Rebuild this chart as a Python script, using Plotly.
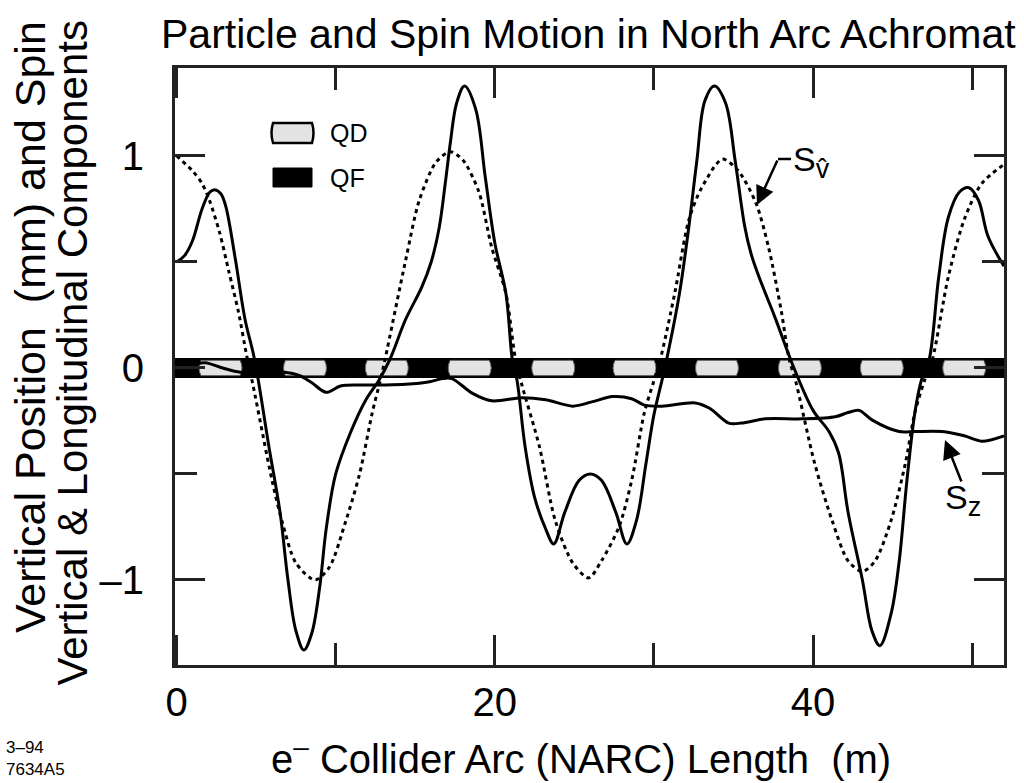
import plotly.graph_objects as go

# ---------------- data ----------------
# particle vertical position (mm)
x_track = [0.0, 0.5, 1.0, 1.6, 2.1, 2.45, 2.8, 3.1, 3.7, 4.3, 4.9, 5.8, 6.5, 7.0, 7.5, 8.0, 8.5, 9.0, 9.4,
           10.0, 10.9, 11.9, 12.7, 13.4, 14.4, 15.4, 16.0, 16.5, 16.9, 17.2, 17.6, 18.1, 18.8, 19.4, 20.0,
           20.7, 21.1, 21.4, 21.9, 22.5, 23.2, 23.7, 24.4, 25.3, 26.0, 26.7, 27.6, 28.3, 28.9, 29.5,
           30.0, 30.5, 30.8, 31.6, 32.2, 32.7, 33.2, 33.8, 34.5, 35.1, 35.7, 36.1, 36.6, 37.6, 38.8,
           40.0, 41.0, 41.6, 42.2, 43.1, 43.7, 44.2, 44.9, 45.4, 45.9, 46.4, 46.8, 47.3, 47.9, 48.5,
           49.2, 49.8, 50.4, 51.0, 52.0]
y_track = [0.50, 0.53, 0.60, 0.75, 0.83, 0.84, 0.82, 0.76, 0.51, 0.23, 0.04, -0.37, -0.68, -1.00, -1.24, -1.33,
           -1.25, -1.03, -0.76, -0.50, -0.31, -0.15, -0.06, 0.04, 0.23, 0.38, 0.50, 0.66, 0.88, 1.06,
           1.25, 1.33, 1.22, 0.90, 0.59, 0.35, 0.04, -0.06, -0.37, -0.61, -0.76, -0.83, -0.68, -0.53, -0.50,
           -0.53, -0.68, -0.83, -0.72, -0.45, -0.22, -0.06, 0.04, 0.35, 0.67, 0.98, 1.26, 1.33, 1.25,
           0.98, 0.67, 0.54, 0.43, 0.24, 0.00, -0.20, -0.30, -0.40, -0.68, -1.00, -1.24, -1.31, -1.16,
           -0.92, -0.53, -0.21, -0.06, 0.04, 0.43, 0.71, 0.83, 0.85, 0.79, 0.62, 0.48]

# vertical spin component S_v (dotted)
x_sv = [0.0, 1.0, 1.6, 2.07, 2.7, 3.3, 3.9, 4.4, 4.8, 6.0, 6.65, 7.5, 8.7, 9.6, 10.6, 11.5, 12.3, 12.8,
        13.1, 14.4, 15.25, 16.3, 17.2, 18.0, 19.0, 19.8, 20.7, 21.3, 21.7, 22.8, 23.8, 24.9, 25.9, 26.7,
        27.8, 28.6, 29.4, 30.0, 30.4, 31.3, 32.2, 33.0, 34.3, 35.3, 36.4, 37.2, 38.0, 38.5, 38.9, 40.1,
        41.2, 42.2, 43.1, 43.9, 44.9, 45.8, 46.4, 47.0, 47.5, 48.5, 49.5, 50.6, 52.0]
y_sv = [1.00, 0.93, 0.87, 0.79, 0.64, 0.45, 0.26, 0.06, -0.08, -0.53, -0.73, -0.92, -1.00, -0.94, -0.73,
        -0.50, -0.21, -0.06, 0.04, 0.51, 0.79, 0.97, 1.02, 0.98, 0.83, 0.57, 0.35, 0.04, -0.08, -0.37,
        -0.72, -0.92, -0.99, -0.91, -0.75, -0.53, -0.21, -0.06, 0.04, 0.35, 0.70, 0.85, 0.985, 0.93, 0.78,
        0.57, 0.27, 0.04, -0.06, -0.45, -0.72, -0.91, -0.96, -0.91, -0.72, -0.45, -0.21, -0.06, 0.04,
        0.43, 0.70, 0.87, 0.96]

# longitudinal spin component S_z
x_sz = [0.0, 1.0, 1.8, 2.9, 4.0, 5.5, 6.8, 7.7, 8.5, 9.4, 10.3, 11.5, 13.0, 14.4, 15.9, 16.7, 17.3, 18.6,
        19.8, 21.7, 23.2, 24.9, 26.1, 27.4, 28.6, 29.4, 30.5, 32.6, 33.5, 34.7, 35.5, 37.0, 39.3, 41.4,
        42.2, 42.9, 43.7, 45.4, 46.4, 48.1, 49.5, 50.6, 52.0]
y_sz = [0.0, 0.015, 0.025, 0.0, -0.02, -0.02, -0.02, -0.035, -0.07, -0.115, -0.085, -0.08, -0.08, -0.077,
        -0.065, -0.05, -0.05, -0.12, -0.155, -0.14, -0.15, -0.18, -0.16, -0.135, -0.145, -0.175, -0.18,
        -0.165, -0.19, -0.26, -0.26, -0.24, -0.24, -0.23, -0.21, -0.20, -0.245, -0.30, -0.30, -0.30,
        -0.32, -0.345, -0.32]

# defocusing quadrupole centres (m); the rest of the lattice band is drawn as QF (black)
qd_centers = [2.76, 8.07, 13.21, 18.42, 23.67, 28.78, 33.96, 39.17, 44.32, 49.50]
qd_length = 2.45

x_tickvals = [0, 20, 40]
x_ticktext = ["0", "20", "40"]
x_minor = [10, 30, 50]
y_tickvals = [-1, 0, 1]
y_ticktext = ["\u20131", "0", "1"]
y_minor = [-0.5, 0.5]

# ---------------- layout geometry ----------------
W, H = 1024, 783
L, R, T, B = 175, 20, 68, 118
PW, PH = W - L - R, H - T - B
FONT = "Liberation Sans, Arial, Helvetica, sans-serif"


def px(x):
    return (x - L) / PW


def py(y):
    return (H - B - y) / PH


fig = go.Figure()
line_col = "black"
fig.add_trace(go.Scatter(x=x_sv, y=y_sv, mode="lines",
                         line=dict(color=line_col, width=3, dash="4px,4px", shape="spline", smoothing=0.8),
                         hoverinfo="skip", showlegend=False))
fig.add_trace(go.Scatter(x=x_track, y=y_track, mode="lines",
                         line=dict(color=line_col, width=3, shape="spline", smoothing=1.0),
                         hoverinfo="skip", showlegend=False))
fig.add_trace(go.Scatter(x=x_sz, y=y_sz, mode="lines",
                         line=dict(color=line_col, width=3, shape="spline", smoothing=0.9),
                         hoverinfo="skip", showlegend=False))

shapes = []
band_half = 0.047
box_half = 0.036
bulge = 0.25
# QF band (black)
shapes.append(dict(type="rect", xref="x domain", yref="y", x0=0, x1=1, y0=-band_half, y1=band_half,
                   fillcolor="black", line=dict(width=0), layer="below"))
qd_fill = "#e3e3e3"
for c in qd_centers:
    x0, x1 = c - qd_length / 2, c + qd_length / 2
    path = (f"M {x0},{-box_half} L {x1},{-box_half} Q {x1 + bulge},0 {x1},{box_half} "
            f"L {x0},{box_half} Q {x0 - bulge},0 {x0},{-box_half} Z")
    shapes.append(dict(type="path", xref="x", yref="y", path=path, fillcolor=qd_fill,
                       line=dict(color="#666", width=1), layer="below"))

# legend symbols (paper coordinates)
lx0, lx1 = px(273), px(312)
qy0, qy1 = py(143), py(123)
bpx = 3 / PW
shapes.append(dict(type="path", xref="paper", yref="paper",
                   path=(f"M {lx0},{qy0} L {lx1},{qy0} Q {lx1 + bpx},{(qy0 + qy1) / 2} {lx1},{qy1} "
                         f"L {lx0},{qy1} Q {lx0 - bpx},{(qy0 + qy1) / 2} {lx0},{qy0} Z"),
                   fillcolor=qd_fill, line=dict(color="black", width=2.5)))
shapes.append(dict(type="rect", xref="paper", yref="paper", x0=lx0, x1=lx1, y0=py(187), y1=py(168),
                   fillcolor="black", line=dict(color="black", width=1)))
# leader for S_v label
shapes.append(dict(type="line", xref="paper", yref="paper", x0=px(778), x1=px(791), y0=py(159), y1=py(159),
                   line=dict(color="black", width=2.5)))

ann = []
ann.append(dict(text="Particle and Spin Motion in North Arc Achromat", xref="paper", yref="paper",
                x=px(588), y=py(34), xanchor="center", yanchor="middle", showarrow=False,
                font=dict(size=41, family=FONT, color="black")))
ann.append(dict(text="e<sup>\u2013</sup> Collider Arc (NARC) Length \u00a0(m)", xref="paper", yref="paper",
                x=px(581), y=py(756), xanchor="center", yanchor="middle", showarrow=False,
                font=dict(size=40, family=FONT, color="black")))
ann.append(dict(text="Vertical Position \u00a0(mm) and Spin", xref="paper", yref="paper",
                x=px(30), y=py(19), xanchor="center", yanchor="top", textangle=-90, showarrow=False,
                font=dict(size=43, family=FONT, color="black")))
ann.append(dict(text="Vertical &amp; Longitudinal Components", xref="paper", yref="paper",
                x=px(72), y=py(19), xanchor="center", yanchor="top", textangle=-90, showarrow=False,
                font=dict(size=42, family=FONT, color="black")))
ann.append(dict(text="QD", xref="paper", yref="paper", x=px(328), y=py(133), xanchor="left",
                yanchor="middle", showarrow=False, font=dict(size=25, family=FONT, color="black")))
ann.append(dict(text="QF", xref="paper", yref="paper", x=px(328), y=py(178), xanchor="left",
                yanchor="middle", showarrow=False, font=dict(size=25, family=FONT, color="black")))
ann.append(dict(text="S<sub><span style='font-size:27px'>v\u0302</span></sub>", xref="paper", yref="paper",
                x=px(791), y=py(162), xanchor="left",
                yanchor="middle", showarrow=False, font=dict(size=34, family=FONT, color="black")))
ann.append(dict(text="S<sub><span style='font-size:27px'>z</span></sub>", xref="paper", yref="paper",
                x=px(943), y=py(500), xanchor="left",
                yanchor="middle", showarrow=False, font=dict(size=34, family=FONT, color="black")))
# arrows
ann.append(dict(text="", xref="paper", yref="paper", x=px(757), y=py(205), ax=21, ay=-46,
                showarrow=True, arrowhead=2, arrowsize=1.5, arrowwidth=2.5, arrowcolor="black", standoff=0))
ann.append(dict(text="", xref="paper", yref="paper", x=px(945), y=py(440), ax=17, ay=43,
                showarrow=True, arrowhead=2, arrowsize=1.5, arrowwidth=2.5, arrowcolor="black", standoff=0))
ann.append(dict(text="3\u201394<br>7634A5", xref="paper", yref="paper", x=px(4), y=py(736), xanchor="left",
                yanchor="top", align="left", showarrow=False, font=dict(size=17, family=FONT, color="black")))

axis_common = dict(showgrid=False, zeroline=False, showline=True, linecolor="#222", linewidth=3,
                   mirror="ticks", ticks="inside", ticklen=30, tickwidth=2.5, tickcolor="#222",
                   tickfont=dict(size=40, family=FONT, color="black"), tickmode="array")

fig.update_layout(
    width=W, height=H, margin=dict(l=L, r=R, t=T, b=B, pad=0),
    paper_bgcolor="white", plot_bgcolor="white", showlegend=False,
    font=dict(family=FONT, color="black"),
    xaxis=dict(range=[-0.1, 52.0], tickvals=x_tickvals, ticktext=x_ticktext, ticklabelstandoff=0,
               minor=dict(tickmode="array", tickvals=x_minor, ticks="inside", ticklen=22, tickwidth=2.5,
                          tickcolor="#222"),
               **axis_common),
    yaxis=dict(range=[-1.401, 1.415], tickvals=y_tickvals, ticktext=y_ticktext, ticklabelstandoff=20,
               minor=dict(tickmode="array", tickvals=y_minor, ticks="inside", ticklen=22, tickwidth=2.5,
                          tickcolor="#222"),
               **axis_common),
    shapes=shapes, annotations=ann,
)

fig.write_html("out.html")
